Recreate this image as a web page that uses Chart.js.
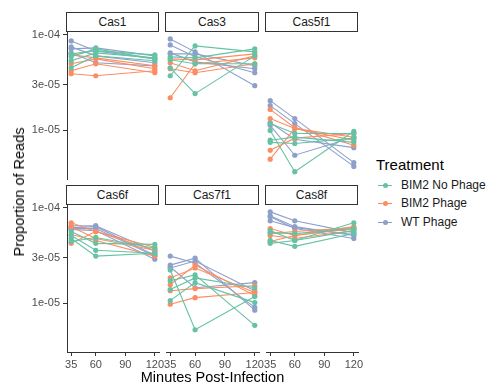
<!DOCTYPE html>
<html><head><meta charset="utf-8">
<script src="https://cdn.jsdelivr.net/npm/chart.js@4.4.0/dist/chart.umd.min.js"></script>
<style>
body{margin:0;background:#fff;width:489px;height:383px;overflow:hidden;position:relative;font-family:'Liberation Sans',Arial,sans-serif;}
canvas{position:absolute;}
.strip{position:absolute;box-sizing:border-box;border:1px solid #333;background:#fff;font-size:12px;color:#1a1a1a;text-align:center;}
.title{position:absolute;font-size:14.5px;color:#000;white-space:nowrap;}
.leg{position:absolute;font-size:12px;color:#1a1a1a;white-space:nowrap;}
.glyph{position:absolute;width:14px;height:1px;}
.dot{position:absolute;width:5px;height:5px;border-radius:50%;}
</style></head><body>
<script>
const times = [35, 60, 120];
const xTicks = [35, 60, 90, 120];
const yTickValues = [1e-5, 3e-5, 1e-4];
const yTickLabels = ['1e-05', '3e-05', '1e-04'];
const genes = ['Cas1', 'Cas3', 'Cas5f1', 'Cas6f', 'Cas7f1', 'Cas8f'];
const treatments = ['BIM2 No Phage', 'BIM2 Phage', 'WT Phage'];
const colors = ['#66C2A5', '#FC8D62', '#8DA0CB'];

// each row: one replicate, values at 35, 60, 120 minutes
const cas1NoPhage = [[6.34e-5,6.81e-5,6.19e-5],[5.36e-5,6.49e-5,5.76e-5],[4.53e-5,6.04e-5,5.36e-5],[5.90e-5,7.15e-5,5.62e-5]];
const cas1Phage   = [[6.19e-5,5.76e-5,4.75e-5],[4.99e-5,5.62e-5,4.43e-5],[4.22e-5,4.99e-5,4.02e-5],[3.93e-5,3.74e-5,4.22e-5]];
const cas1WT      = [[8.66e-5,6.81e-5,5.62e-5],[7.50e-5,6.04e-5,5.11e-5],[7.15e-5,7.32e-5,6.04e-5],[6.49e-5,5.11e-5,4.75e-5]];

const cas3NoPhage = [[4.53e-5,2.43e-5,6.04e-5],[3.74e-5,7.68e-5,6.65e-5],[5.90e-5,5.76e-5,7.15e-5],[5.49e-5,4.99e-5,4.99e-5]];
const cas3Phage   = [[2.20e-5,4.99e-5,5.76e-5],[5.62e-5,5.49e-5,6.34e-5],[5.11e-5,4.22e-5,6.04e-5],[4.43e-5,4.02e-5,4.99e-5]];
const cas3WT      = [[9.08e-5,6.65e-5,2.94e-5],[7.87e-5,5.90e-5,4.02e-5],[6.49e-5,5.23e-5,4.43e-5],[6.34e-5,6.34e-5,4.75e-5]];

const cas5f1NoPhage = [[1.18e-5,0.93e-5,0.93e-5],[1.00e-5,0.37e-5,0.98e-5],[0.79e-5,0.85e-5,0.75e-5],[0.75e-5,0.73e-5,0.83e-5]];
const cas5f1Phage   = [[1.66e-5,1.07e-5,0.70e-5],[1.33e-5,1.05e-5,0.79e-5],[0.62e-5,0.83e-5,0.93e-5],[0.50e-5,1.05e-5,0.85e-5]];
const cas5f1WT      = [[2.05e-5,1.33e-5,0.46e-5],[1.82e-5,1.18e-5,0.42e-5],[1.21e-5,0.81e-5,0.66e-5],[1.13e-5,0.55e-5,0.85e-5]];

const cas6fNoPhage = [[5.66e-5,4.26e-5,4.16e-5],[5.15e-5,3.60e-5,3.35e-5],[4.79e-5,3.13e-5,3.35e-5],[4.46e-5,4.91e-5,3.78e-5]];
const cas6fPhage   = [[7.00e-5,5.66e-5,3.87e-5],[6.37e-5,4.79e-5,3.60e-5],[5.27e-5,4.57e-5,3.13e-5],[4.26e-5,5.66e-5,3.60e-5]];
const cas6fWT      = [[6.52e-5,6.52e-5,3.52e-5],[6.22e-5,6.37e-5,3.20e-5],[5.94e-5,5.79e-5,2.91e-5],[6.08e-5,6.08e-5,3.13e-5]];

const cas7f1NoPhage = [[1.73e-5,1.99e-5,0.59e-5],[2.24e-5,0.53e-5,1.18e-5],[1.40e-5,1.85e-5,1.46e-5],[1.07e-5,1.65e-5,1.02e-5]];
const cas7f1Phage   = [[1.85e-5,2.35e-5,1.30e-5],[1.57e-5,2.52e-5,1.21e-5],[1.36e-5,1.43e-5,1.53e-5],[0.98e-5,1.15e-5,1.30e-5]];
const cas7f1WT      = [[3.13e-5,2.65e-5,0.91e-5],[2.52e-5,2.98e-5,0.85e-5],[2.41e-5,1.46e-5,1.65e-5],[2.35e-5,2.78e-5,1.36e-5]];

const cas8fNoPhage = [[5.79e-5,4.57e-5,7.00e-5],[5.52e-5,5.39e-5,6.08e-5],[4.57e-5,3.96e-5,5.39e-5],[4.26e-5,4.57e-5,5.79e-5]];
const cas8fPhage   = [[6.08e-5,5.15e-5,6.37e-5],[5.39e-5,5.66e-5,6.22e-5],[5.15e-5,4.79e-5,5.79e-5],[4.46e-5,5.15e-5,6.08e-5]];
const cas8fWT      = [[9.10e-5,7.34e-5,5.52e-5],[8.27e-5,6.37e-5,5.15e-5],[8.07e-5,6.08e-5,4.79e-5],[7.34e-5,6.22e-5,5.27e-5]];

const panelData = [
  [cas1NoPhage, cas1Phage, cas1WT],
  [cas3NoPhage, cas3Phage, cas3WT],
  [cas5f1NoPhage, cas5f1Phage, cas5f1WT],
  [cas6fNoPhage, cas6fPhage, cas6fWT],
  [cas7f1NoPhage, cas7f1Phage, cas7f1WT],
  [cas8fNoPhage, cas8fPhage, cas8fWT]
];

// layout
const colLeft = [67, 166, 266];
const colWidth = [92, 93, 92];
const rowTop = [32, 205];
const panelH = 147;
const stripH = 20;
const M = 12;
const xAxisH = 31;

Chart.defaults.font.family = "'Liberation Sans', Arial, sans-serif";

function addDiv(cls, text, style){
  const d = document.createElement('div');
  d.className = cls;
  if (text !== null) d.textContent = text;
  Object.assign(d.style, style);
  document.body.appendChild(d);
  return d;
}

genes.forEach((gene, idx) => {
  const col = idx % 3, row = Math.floor(idx / 3);
  const pl = colLeft[col], pw = colWidth[col], pt = rowTop[row];
  const isLeft = col === 0, isBottom = row === 1;
  const cLeft = isLeft ? 0 : pl - M;
  const cWidth = isLeft ? pl + pw + M : pw + 2 * M;
  const cTop = pt - M;
  const cHeight = M + panelH + (isBottom ? xAxisH : M);

  const canvas = document.createElement('canvas');
  canvas.width = cWidth; canvas.height = cHeight;
  canvas.style.left = cLeft + 'px'; canvas.style.top = cTop + 'px';
  canvas.style.width = cWidth + 'px'; canvas.style.height = cHeight + 'px';
  document.body.appendChild(canvas);

  const datasets = [];
  panelData[idx].forEach((reps, t) => {
    reps.forEach(vals => {
      datasets.push({
        label: treatments[t],
        data: vals.map((v, i) => ({x: times[i], y: v})),
        borderColor: colors[t],
        backgroundColor: colors[t],
        pointBackgroundColor: colors[t],
        pointBorderWidth: 0,
        pointRadius: 2.6,
        borderWidth: 1.1,
        showLine: true,
        clip: false
      });
    });
  });

  const xScale = {
    type: 'linear', min: 30.75, max: 124.25, bounds: 'data',
    display: isBottom,
    afterBuildTicks: s => { s.ticks = xTicks.map(v => ({value: v})); },
    ticks: {color: '#4d4d4d', font: {size: 11}, padding: 2, maxRotation: 0, autoSkip: false,
            callback: v => String(v)},
    grid: {drawOnChartArea: false, drawTicks: true, tickLength: 4, color: '#333', lineWidth: 1},
    border: {display: true, color: '#333', width: 1}
  };
  if (isBottom) xScale.afterFit = s => { s.height = xAxisH; };

  const yScale = {
    type: 'logarithmic', min: 3.1e-6, max: 1.074e-4, bounds: 'data',
    display: isLeft,
    afterBuildTicks: s => { s.ticks = yTickValues.map(v => ({value: v})); },
    ticks: {color: '#4d4d4d', font: {size: 11}, padding: 3,
            callback: (v, i) => yTickLabels[i]},
    grid: {drawOnChartArea: false, drawTicks: true, tickLength: 4, color: '#333', lineWidth: 1},
    border: {display: true, color: '#333', width: 1}
  };
  if (isLeft) yScale.afterFit = s => { s.width = pl; };

  new Chart(canvas, {
    type: 'line',
    data: {datasets},
    options: {
      responsive: false,
      animation: false,
      devicePixelRatio: 1,
      layout: {padding: {left: isLeft ? 0 : M, right: M, top: M, bottom: isBottom ? 0 : M}},
      plugins: {legend: {display: false}, tooltip: {enabled: false}},
      scales: {x: xScale, y: yScale}
    }
  });

  addDiv('strip', gene, {left: (pl - 1) + 'px', top: (pt - stripH) + 'px', width: (pw + 1) + 'px',
    height: stripH + 'px', lineHeight: (stripH - 2) + 'px'});
});

// axis titles
addDiv('title', 'Proportion of Reads', {left: '18.5px', top: '192px', transform: 'translate(-50%,-50%) rotate(-90deg)'});
addDiv('title', 'Minutes Post-Infection', {left: '212.5px', top: '377px', transform: 'translate(-50%,-50%)'});

// legend
addDiv('title', 'Treatment', {left: '376px', top: '164px', fontSize: '15px', transform: 'translateY(-50%)'});
const legY = [185, 203, 222];
treatments.forEach((t, i) => {
  addDiv('glyph', null, {left: '378px', top: (legY[i] - 0.5) + 'px', background: colors[i]});
  addDiv('dot', null, {left: '382.5px', top: (legY[i] - 2.5) + 'px', background: colors[i]});
  addDiv('leg', t, {left: '401px', top: legY[i] + 'px', transform: 'translateY(-50%)'});
});
</script>
</body></html>
